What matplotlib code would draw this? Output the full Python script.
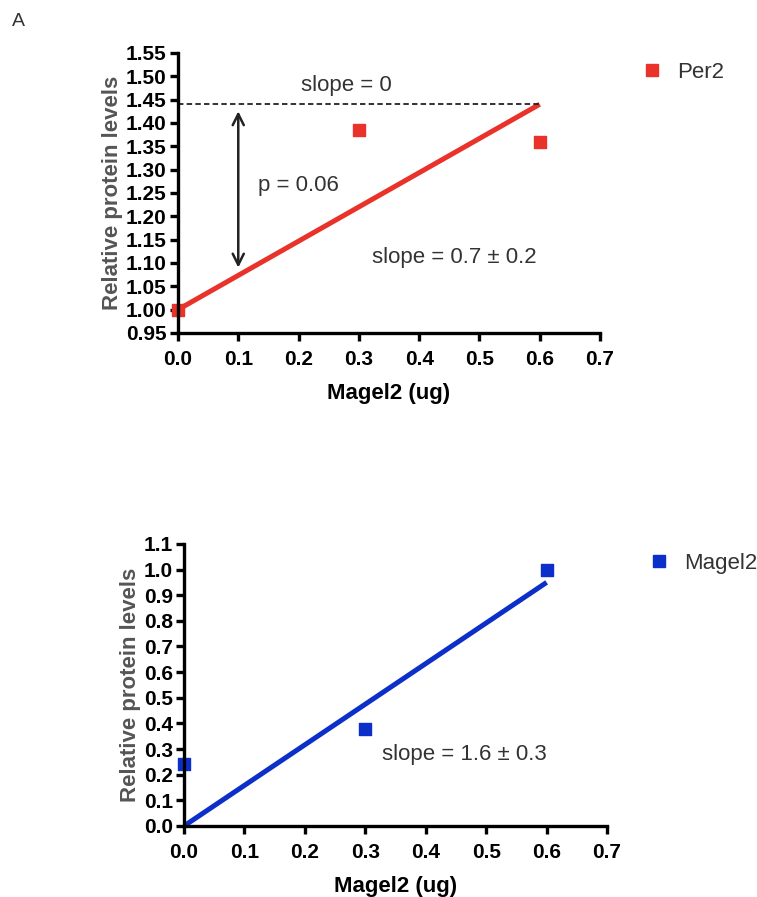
import numpy as np
import matplotlib.pyplot as plt
from matplotlib.lines import Line2D

plt.rcParams['font.family'] = ['Liberation Sans', 'DejaVu Sans']

# Per2 measurements and fitted line
dose = [0.0, 0.3, 0.6]
per2 = [1.00, 1.385, 1.36]
per2_fit_x = [0.0, 0.6]
per2_fit_y = [1.00, 1.44]
per2_flat = 1.44

# Magel2 measurements and fitted line
magel2 = [0.24, 0.38, 1.00]
magel2_fit_x = [0.0, 0.6]
magel2_fit_y = [0.0, 0.95]

red = '#e8322a'
blue = '#0b2fc8'
txt = '#333333'

fig = plt.figure(figsize=(7.57, 8.97), dpi=100)
ax1 = fig.add_axes([0.2351, 0.6288, 0.5575, 0.3122])
ax2 = fig.add_axes([0.2431, 0.0792, 0.5588, 0.3144])


def style(ax, yticks, ylim, yfmt):
    for s in ['top', 'right']:
        ax.spines[s].set_visible(False)
    for s in ['left', 'bottom']:
        ax.spines[s].set_linewidth(2.4)
        ax.spines[s].set_zorder(5)
    ax.set_xlim(0, 0.7)
    ax.set_ylim(*ylim)
    ax.set_xticks(np.arange(0, 0.71, 0.1))
    ax.set_xticklabels(['%.1f' % v for v in np.arange(0, 0.71, 0.1)])
    ax.set_yticks(yticks)
    ax.set_yticklabels([yfmt % v for v in yticks])
    ax.tick_params(width=2.4, length=6, labelsize=15, pad=2)
    ax.tick_params(axis='x', pad=6)
    for lab in ax.get_xticklabels() + ax.get_yticklabels():
        lab.set_fontweight('bold')
    ax.set_xlabel('Magel2 (ug)', fontsize=16, fontweight='bold', labelpad=10)
    ax.set_ylabel('Relative protein levels', fontsize=16, fontweight='bold',
                  color='#555555', labelpad=2)


style(ax1, np.arange(0.95, 1.551, 0.05), (0.95, 1.55), '%.2f')
style(ax2, np.arange(0.0, 1.11, 0.1), (0.0, 1.1), '%.1f')

# top panel
ax1.plot(per2_fit_x, per2_fit_y, color=red, lw=3.6, solid_capstyle='butt', zorder=3)
ax1.plot([0, 0.6], [per2_flat, per2_flat], color='#222222', lw=1.3,
         ls=(0, (3, 1.8)), zorder=3)
ax1.scatter(dose, per2, marker='s', s=64, color=red, clip_on=False, zorder=4)
ax1.annotate('', xy=(0.1, 1.09), xytext=(0.1, 1.425),
             arrowprops=dict(arrowstyle='<->', color='#222222', lw=1.8,
                             mutation_scale=20, shrinkA=0, shrinkB=0))
ax1.text(0.279, 1.481, 'slope = 0', fontsize=16, color=txt, ha='center', va='center')
ax1.text(0.133, 1.267, 'p = 0.06', fontsize=16, color=txt, ha='left', va='center')
ax1.text(0.322, 1.111, 'slope = 0.7 \u00b1 0.2', fontsize=16, color=txt,
         ha='left', va='center')

# bottom panel
ax2.plot(magel2_fit_x, magel2_fit_y, color=blue, lw=3.6, solid_capstyle='butt', zorder=3)
ax2.scatter(dose, magel2, marker='s', s=64, color=blue, clip_on=False, zorder=4)
ax2.text(0.328, 0.277, 'slope = 1.6 \u00b1 0.3', fontsize=16, color=txt,
         ha='left', va='center')

for ax, col, name in [(ax1, red, 'Per2'), (ax2, blue, 'Magel2')]:
    h = Line2D([], [], marker='s', ls='none', color=col, markersize=8)
    ax.legend([h], [name], loc='upper left', bbox_to_anchor=(1.05, 1.0),
              frameon=False, fontsize=16, handletextpad=0.1, borderaxespad=0)
    for t in ax.get_legend().get_texts():
        t.set_color(txt)

fig.text(0.016, 0.976, 'A', fontsize=14, color='#333333', ha='left', va='center')

fig.savefig('out.png', dpi=100)
